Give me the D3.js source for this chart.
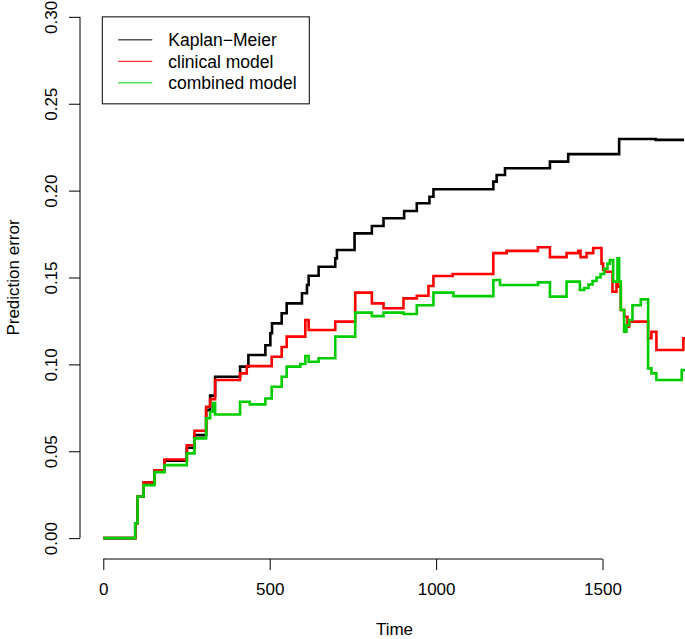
<!DOCTYPE html>
<html>
<head>
<meta charset="utf-8">
<script src="https://cdn.jsdelivr.net/npm/d3@7"></script>
<style>
  body { margin: 0; background: #fff; }
  svg { display: block; font-family: "Liberation Sans", Arial, Helvetica, sans-serif; }
  .axis text { font-size: 17px; fill: #000; }
  .axis line { stroke: #000; }
</style>
</head>
<body>
<div id="chart"></div>
<script>
// step curves: time of each jump and the error after it
const kmTimes = [0, 96, 103, 121, 154, 184, 251, 274, 309, 321, 336, 411, 436, 487, 502, 507, 536, 551, 597, 612, 617, 647, 697, 702, 755, 807, 842, 904, 942, 980, 992, 1172, 1182, 1207, 1342, 1397, 1550, 1660, 1745];
const kmError = [0, 0.0086, 0.024, 0.032, 0.0385, 0.0445, 0.052, 0.0593, 0.0737, 0.082, 0.0929, 0.0987, 0.1054, 0.111, 0.1179, 0.1236, 0.1294, 0.1351, 0.1409, 0.1457, 0.151, 0.1562, 0.161, 0.1658, 0.1754, 0.1796, 0.1841, 0.1883, 0.1927, 0.1965, 0.2008, 0.2052, 0.209, 0.2129, 0.2167, 0.221, 0.2297, 0.2292, 0.2292];

const clinTimes = [0, 96, 103, 121, 154, 184, 251, 274, 309, 321, 336, 411, 431, 506, 536, 551, 607, 617, 697, 757, 807, 842, 902, 942, 977, 992, 1050, 1172, 1212, 1306, 1342, 1392, 1427, 1434, 1452, 1472, 1497, 1502, 1508, 1530, 1542, 1547, 1555, 1565, 1575, 1580, 1637, 1647, 1662, 1743, 1748];
const clinError = [0, 0.0086, 0.024, 0.032, 0.039, 0.0453, 0.0535, 0.0618, 0.0756, 0.08, 0.091, 0.0948, 0.099, 0.1044, 0.11, 0.116, 0.1255, 0.1198, 0.1246, 0.1413, 0.1351, 0.1323, 0.138, 0.1395, 0.1451, 0.1509, 0.152, 0.164, 0.1653, 0.1674, 0.1617, 0.164, 0.1653, 0.1617, 0.164, 0.167, 0.158, 0.1543, 0.1533, 0.1418, 0.1467, 0.1447, 0.1313, 0.1274, 0.1217, 0.1246, 0.115, 0.1188, 0.1083, 0.115, 0.115];

const combTimes = [0, 96, 103, 121, 154, 184, 251, 274, 309, 321, 330, 336, 411, 440, 487, 506, 536, 551, 592, 607, 617, 647, 697, 757, 807, 842, 902, 942, 992, 1052, 1172, 1192, 1306, 1342, 1392, 1432, 1445, 1458, 1470, 1482, 1494, 1505, 1515, 1522, 1532, 1545, 1550, 1555, 1565, 1572, 1580, 1590, 1615, 1637, 1647, 1662, 1738, 1748];
const combError = [0, 0.0086, 0.024, 0.0305, 0.038, 0.042, 0.0488, 0.0574, 0.069, 0.0727, 0.0777, 0.0712, 0.0785, 0.077, 0.0804, 0.0871, 0.0929, 0.0987, 0.1002, 0.1048, 0.1015, 0.1035, 0.116, 0.1298, 0.1278, 0.1298, 0.129, 0.134, 0.1413, 0.1393, 0.1486, 0.1457, 0.1472, 0.139, 0.1476, 0.1428, 0.144, 0.146, 0.148, 0.15, 0.152, 0.155, 0.158, 0.16, 0.1476, 0.161, 0.1476, 0.1313, 0.1188, 0.1225, 0.1255, 0.134, 0.1374, 0.0977, 0.0948, 0.091, 0.0967, 0.0967];

const seriesNames = ["Kaplan\u2212Meier", "clinical model", "combined model"];
const seriesColors = ["#000000", "#ff0000", "#00cd00"];
const xTicks = [0, 500, 1000, 1500];
const yTicks = [0, 0.05, 0.1, 0.15, 0.2, 0.25, 0.3];

const width = 685, height = 639;
const strokeWidth = 2.6;

const series = [
  { name: seriesNames[0], color: seriesColors[0], values: kmTimes.map((t, i) => [t, kmError[i]]) },
  { name: seriesNames[1], color: seriesColors[1], values: clinTimes.map((t, i) => [t, clinError[i]]) },
  { name: seriesNames[2], color: seriesColors[2], values: combTimes.map((t, i) => [t, combError[i]]) },
];

// R style plot region: data range padded by 4% on each side
const xMax = 1750, yMax = 0.3;
const x = d3.scaleLinear().domain([-0.04 * xMax, 1.04 * xMax]).range([80, 709]);
const y = d3.scaleLinear().domain([-0.04 * yMax, 1.04 * yMax]).range([559, -4]);

const svg = d3.select("#chart").append("svg")
  .attr("width", width)
  .attr("height", height)
  .attr("viewBox", [0, 0, width, height]);

// x axis
const gX = svg.append("g").attr("class", "axis axis-x")
  .attr("transform", `translate(0,${y.range()[0]})`)
  .call(d3.axisBottom(x).tickValues(xTicks).tickSize(11).tickFormat(d3.format("d")))
  .call((g) => g.select(".domain").remove())
  .call((g) => g.selectAll(".tick text").attr("y", 36).attr("dy", null));
gX.append("line")
  .attr("x1", x(xTicks[0])).attr("x2", x(xTicks[xTicks.length - 1]))
  .attr("stroke", "#000");

// y axis
const gY = svg.append("g").attr("class", "axis axis-y")
  .attr("transform", `translate(${x.range()[0]},0)`)
  .call(d3.axisLeft(y).tickValues(yTicks).tickSize(11).tickFormat(d3.format(".2f")))
  .call((g) => g.select(".domain").remove())
  .call((g) => g.selectAll(".tick text")
    .attr("x", null).attr("dy", null)
    .attr("text-anchor", "middle")
    .attr("transform", "translate(-23,0) rotate(-90)"));
gY.append("line")
  .attr("y1", y(yTicks[0])).attr("y2", y(yTicks[yTicks.length - 1]))
  .attr("stroke", "#000");

// axis titles
svg.append("text")
  .attr("x", (x.range()[0] + x.range()[1]) / 2)
  .attr("y", 635)
  .attr("text-anchor", "middle")
  .attr("font-size", 17)
  .text("Time");
svg.append("text")
  .attr("transform", `translate(19,${(y.range()[0] + y.range()[1]) / 2}) rotate(-90)`)
  .attr("text-anchor", "middle")
  .attr("font-size", 17)
  .text("Prediction error");

// curves
const line = d3.line()
  .x((d) => x(d[0]))
  .y((d) => y(d[1]))
  .curve(d3.curveStepAfter);

svg.append("g")
  .selectAll("path")
  .data(series)
  .join("path")
  .attr("fill", "none")
  .attr("stroke", (d) => d.color)
  .attr("stroke-width", strokeWidth)
  .attr("d", (d) => line(d.values));

// legend, anchored at the top left data corner like R's legend(0, 0.3, ...)
const legend = svg.append("g")
  .attr("transform", `translate(${x(0) - 1},${y(yMax)})`);
legend.append("rect")
  .attr("width", 207).attr("height", 87)
  .attr("fill", "#fff").attr("stroke", "#000");
const rows = legend.selectAll(".row")
  .data(series)
  .join("g")
  .attr("class", "row")
  .attr("transform", (d, i) => `translate(0,${23 + i * 21.5})`);
rows.append("line")
  .attr("x1", 16).attr("x2", 50)
  .attr("stroke", (d) => d.color)
  .attr("stroke-width", 1);
rows.append("text")
  .attr("x", 66)
  .attr("dy", "0.36em")
  .attr("font-size", 17.5)
  .text((d) => d.name);
</script>
</body>
</html>
